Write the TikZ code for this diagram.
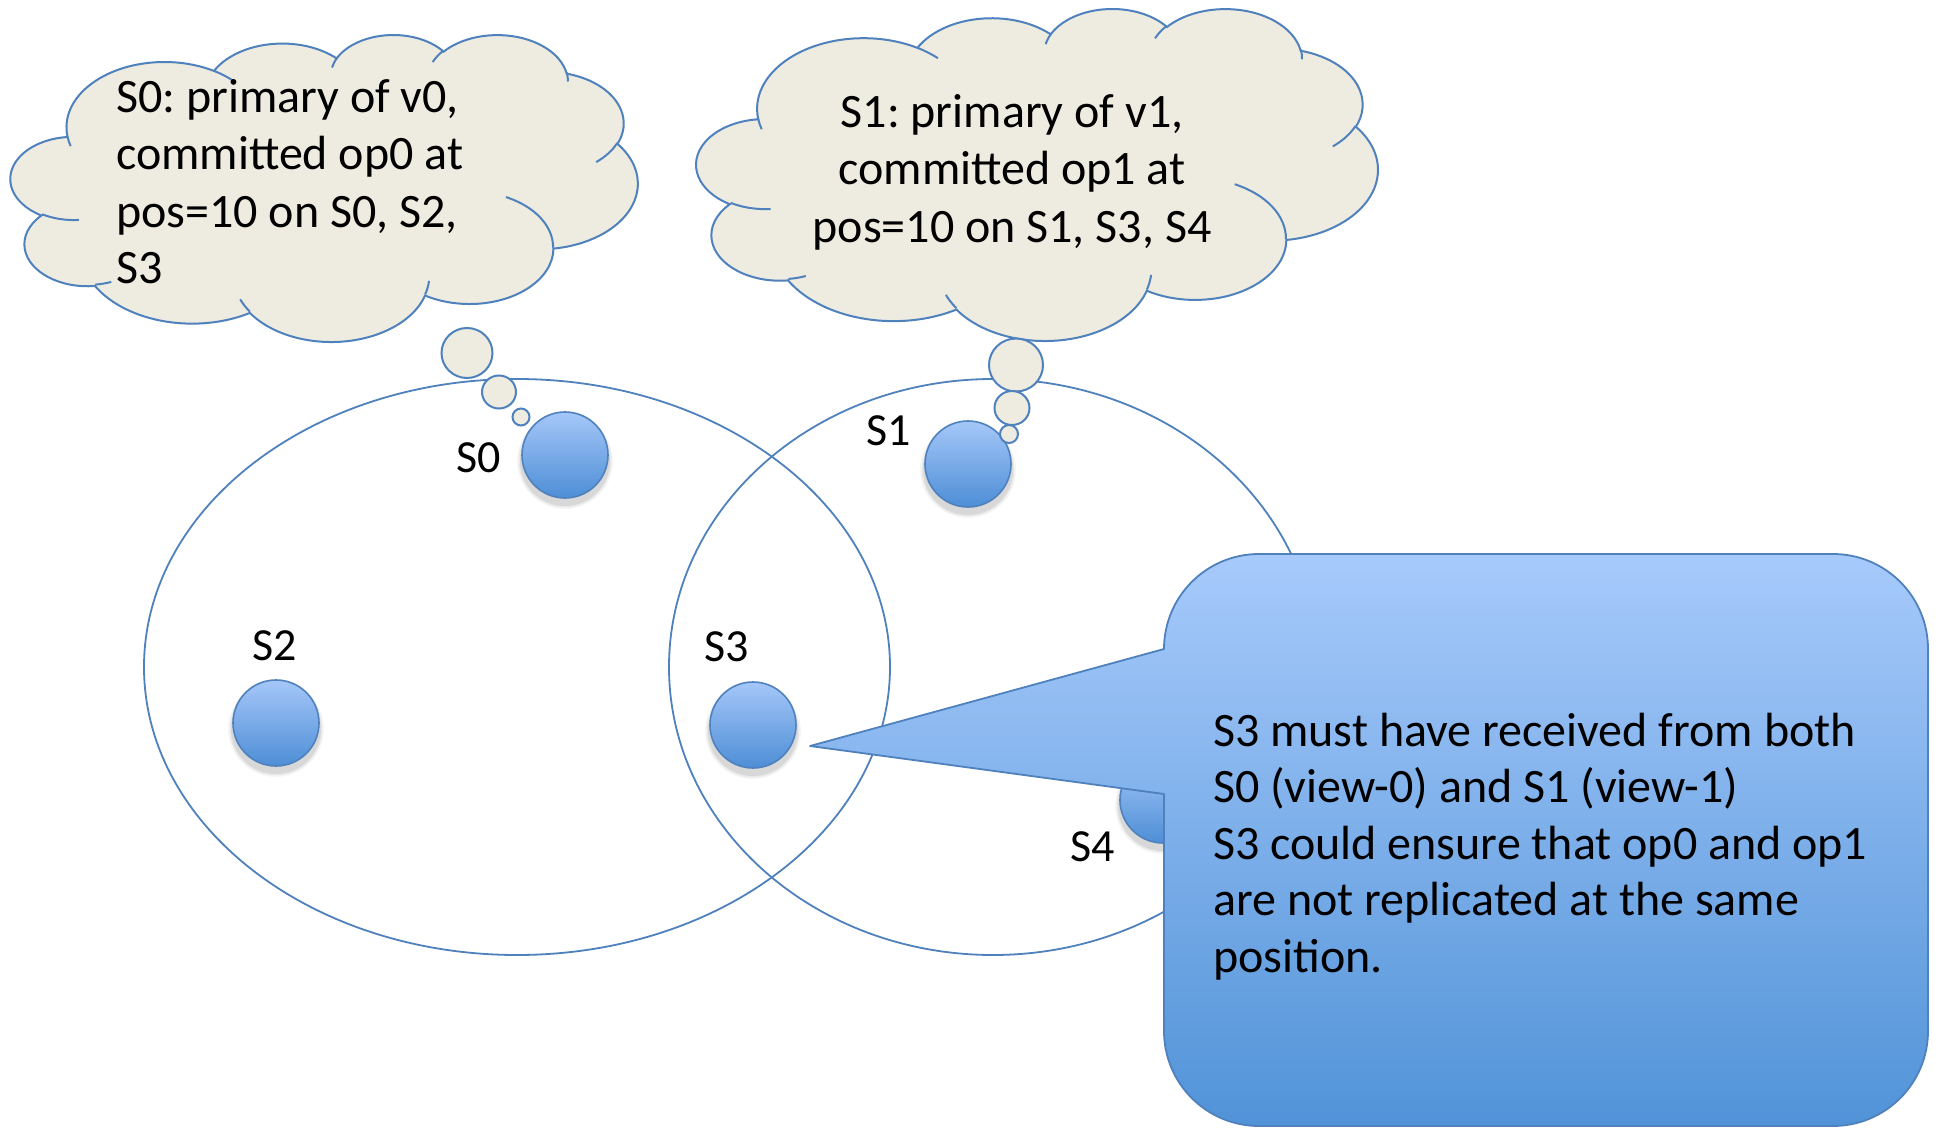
\documentclass[tikz,border=0pt]{standalone}
\usepackage{fontspec}
\setmainfont{Carlito}
\frenchspacing
\definecolor{lineblue}{RGB}{79,129,189}
\definecolor{cloudfill}{RGB}{238,236,225}
\definecolor{srvtop}{RGB}{165,199,249}
\definecolor{srvbot}{RGB}{78,142,214}
\definecolor{caltop}{RGB}{167,202,251}
\definecolor{calbot}{RGB}{81,147,216}
\tikzset{
  cloudpath/.style={insert path={
    (39.00,143.70)
    arc[start angle=172.26, delta angle=128.10, x radius=67.53, y radius=91.90]
    arc[start angle=-152.02, delta angle=106.59, x radius=53.33, y radius=72.67]
    arc[start angle=-153.48, delta angle=116.16, x radius=43.65, y radius=59.45]
    arc[start angle=-139.69, delta angle=129.48, x radius=48.57, y radius=65.95]
    arc[start angle=-74.77, delta angle=97.98, x radius=53.33, y radius=72.73]
    arc[start angle=-37.53, delta angle=119.39, x radius=67.75, y radius=92.20]
    arc[start angle=0.46, delta angle=121.52, x radius=57.85, y radius=78.67]
    arc[start angle=16.85, delta angle=129.40, x radius=67.52, y radius=92.15]
    arc[start angle=58.98, delta angle=91.22, x radius=77.20, y radius=105.43]
    arc[start angle=83.31, delta angle=139.80, x radius=43.60, y radius=59.18]
    arc[start angle=120.36, delta angle=143.75, x radius=43.45, y radius=59.45]
    -- cycle}},
  cloudinner/.style={insert path={
    (46.93,261.77) arc[start angle=85.55, delta angle=34.81, x radius=43.45, y radius=59.45]
    (69.28,348.99) arc[start angle=68.23, delta angle=15.08, x radius=43.60, y radius=59.18]
    (164.78,390.90) arc[start angle=146.25, delta angle=12.22, x radius=67.52, y radius=92.15]
    (288.27,347.51) arc[start angle=4.74, delta angle=12.11, x radius=67.52, y radius=92.15]
    (341.29,229.54) arc[start angle=-64.03, delta angle=64.49, x radius=57.85, y radius=78.67]
    (417.98,153.54) arc[start angle=23.21, delta angle=26.43, x radius=53.33, y radius=72.73]
    (383.24,54.26) arc[start angle=-10.21, delta angle=11.03, x radius=48.57, y radius=65.95]
    (290.78,39.52) arc[start angle=-156.29, delta angle=16.60, x radius=48.57, y radius=65.95]
    (221.41,47.20) arc[start angle=-167.73, delta angle=14.25, x radius=43.65, y radius=59.45]
    (140.00,51.92) arc[start angle=-59.64, delta angle=13.93, x radius=67.53, y radius=91.90]
    (41.27,157.89) arc[start angle=163.19, delta angle=9.07, x radius=67.53, y radius=91.90]
  }},
  cloudsty/.style={fill=cloudfill, draw=lineblue, line width=2pt},
  innersty/.style={draw=lineblue, line width=2pt},
  ellsty/.style={draw=lineblue, line width=1.8pt},
  server/.style={circle, minimum size=86pt, inner sep=0pt, draw=lineblue, line width=1.6pt,
    top color=srvtop, bottom color=srvbot},
  txt/.style={font=\fontsize{48}{57}\selectfont, inner sep=0pt},
  lbl/.style={font=\fontsize{46}{55}\selectfont, inner sep=0pt, anchor=base},
}
\begin{document}
\begin{tikzpicture}[x=1pt, y=-1pt]
\useasboundingbox (0,0) rectangle (1939,1129);
\fill[white] (0,0) rectangle (1939,1129);

% views (big ellipses)
\draw[ellsty] (517,667) ellipse[x radius=373pt, y radius=288pt];
\draw[ellsty] (993,667) ellipse[x radius=324pt, y radius=288pt];

% shadows of servers
\foreach \x/\y in {565/455, 968/464, 276/723, 753/725, 1163/800} {
  \foreach \r/\o in {48/0.035, 46.5/0.05, 45/0.07} {
    \fill[black, opacity=\o] (\x,\y+6) circle[radius=\r pt];
  }
}
% servers
\node[server] (s0) at (565,455) {};
\node[server] (s1) at (968,464) {};
\node[server] (s2) at (276,723) {};
\node[server] (s3) at (753,725) {};
\node[server] (s4) at (1163,800) {};

\node[lbl] (l0) at (479,472) {S0};
\node[lbl] (l1) at (889,445) {S1};
\node[lbl] (l2) at (275,660) {S2};
\node[lbl] (l3) at (727,661) {S3};
\node[lbl] (l4) at (1093,861) {S4};

% cloud of S0
\begin{scope}[shift={(10.8pt,-34pt)}, x=1.4508pt, y=-0.71032pt]
  \path[cloudsty, cloudpath];
  \path[innersty, cloudinner];
\end{scope}
\draw[cloudsty] (467,353) ellipse[x radius=25.5pt, y radius=25pt];
\draw[cloudsty] (499,392) ellipse[x radius=17pt, y radius=16.5pt];
\draw[cloudsty] (521,417) ellipse[x radius=8.5pt, y radius=8.5pt];
\node[txt, anchor=base west] (c0a) at (116,113) {S0: primary of v0,};
\node[txt, anchor=base west] (c0b) at (116,170) {committed op0 at};
\node[txt, anchor=base west] (c0c) at (116,227) {pos=10 on S0, S2,};
\node[txt, anchor=base west] (c0d) at (116,283) {S3};

% cloud of S1
\begin{scope}[shift={(696.6pt,-7.9pt)}, x=1.5766pt, y=-0.7682pt]
  \path[cloudsty, cloudpath];
  \path[innersty, cloudinner];
\end{scope}
\draw[cloudsty] (1016,365) ellipse[x radius=27pt, y radius=26.5pt];
\draw[cloudsty] (1012,408) ellipse[x radius=17.5pt, y radius=17pt];
\draw[cloudsty] (1009,434) ellipse[x radius=9pt, y radius=9pt];
\node[txt, anchor=base] (c1a) at (1012,128) {S1: primary of v1,};
\node[txt, anchor=base] (c1b) at (1012,185) {committed op1 at};
\node[txt, anchor=base] (c1c) at (1012,242) {pos=10 on S1, S3, S4};

% callout pointing at S3
\shadedraw[top color=caltop, bottom color=calbot, draw=lineblue, line width=1.8pt, line join=round]
  (1164,794) -- (810,746) coordinate (tip) -- (1164,649)
  arc[start angle=180, end angle=90, radius=95pt] -- (1833,554)
  arc[start angle=90, end angle=0, radius=95pt] -- (1928,1031)
  arc[start angle=0, end angle=-90, radius=95pt] -- (1259,1126)
  arc[start angle=-90, end angle=-180, radius=95pt] -- cycle;
\node[txt, anchor=base west] (t1) at (1213,746) {S3 must have received from both};
\node[txt, anchor=base west] (t2) at (1213,802.5) {S0 (view-0) and S1 (view-1)};
\node[txt, anchor=base west] (t3) at (1213,859) {S3 could ensure that op0 and op1};
\node[txt, anchor=base west] (t4) at (1213,915.5) {are not replicated at the same};
\node[txt, anchor=base west] (t5) at (1213,972) {position.};
\end{tikzpicture}
\end{document}
